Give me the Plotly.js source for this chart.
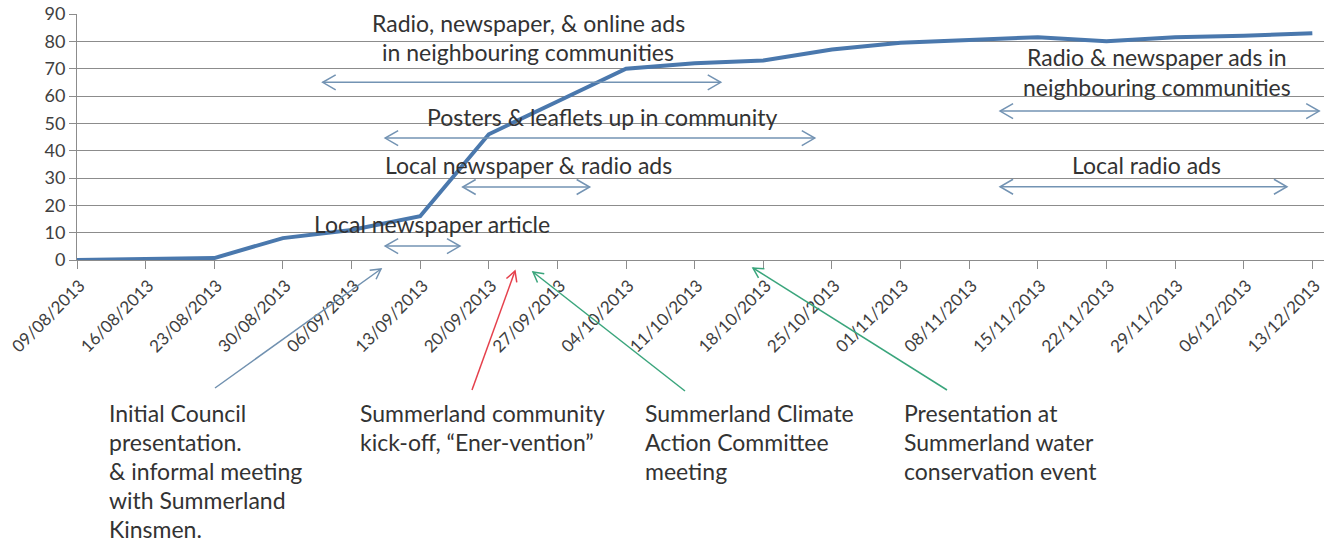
<!DOCTYPE html>
<html><head><meta charset="utf-8">
<script src="https://cdn.plot.ly/plotly-3.0.1.min.js"></script>
<style>html,body{margin:0;padding:0;background:#fff}#chart{width:1331px;height:545px}</style>
</head><body><div id="chart"></div>
<script>
// ---- data ----
const weeks = ['09/08/2013','16/08/2013','23/08/2013','30/08/2013','06/09/2013','13/09/2013','20/09/2013',
  '27/09/2013','04/10/2013','11/10/2013','18/10/2013','25/10/2013','01/11/2013','08/11/2013','15/11/2013',
  '22/11/2013','29/11/2013','06/12/2013','13/12/2013'];
const participants = [0, 0.5, 0.7, 8, 11, 16, 46, 58, 70, 72, 73, 77, 79.5, 80.5, 81.5, 80, 81.5, 82, 83];
const yTicks = [0,10,20,30,40,50,60,70,80,90];

// campaign spans: label lines, start index, end index, level
const spanLabels = [
  ['Radio, newspaper, & online ads','in neighbouring communities'],
  ['Posters & leaflets up in community'],
  ['Local newspaper & radio ads'],
  ['Local newspaper article'],
  ['Radio & newspaper ads in','neighbouring communities'],
  ['Local radio ads']
];
const spanStart = [3.58, 4.49, 5.62, 4.49, 13.45, 13.45];
const spanEnd   = [9.38, 10.75, 7.47, 5.58, 18.10, 17.63];
const spanLevel = [65, 44.6, 26.7, 5.1, 54.5, 26.8];

const eventLabels = [
  ['Initial Council','presentation.','& informal meeting','with Summerland','Kinsmen.'],
  ['Summerland community','kick-off, \u201cEner-vention\u201d'],
  ['Summerland Climate','Action Committee','meeting'],
  ['Presentation at','Summerland water','conservation event']
];
const eventColors = ['#7191b0','#e5404c','#3aa57c','#3aa57c'];

// ---- layout geometry (pixels) ----
const PL=77, PR=1324, PT=14, PB=260, W=1331, H=545;
const PW=PR-PL, PH=PB-PT, XMAX=18.17, YMAX=90;
const fx = p => (p-PL)/PW;
const fy = p => (PB-p)/PH;

const FONT = 'Lato, "Noto Sans", sans-serif';
const TXT = '#333333';
const AXC = '#8c8c8c';
const shapes = [], annotations = [];

function chevron(xref, yref, xa, ya, dx, dy, L, w, color, lw){
  const p1x = -L*dx + w*(-dy), p1y = -L*dy + w*dx;
  const p2x = -L*dx - w*(-dy), p2y = -L*dy - w*dx;
  shapes.push({type:'path', xref, yref, xsizemode:'pixel', ysizemode:'pixel', xanchor:xa, yanchor:ya,
    path:`M${p1x},${-p1y} L0,0 L${p2x},${-p2y}`, line:{color, width:lw}});
}

// horizontal double arrows (data coords)
const spanColor = '#7393b3';
const spanText = [[528,23,29],[602,117,29],[528,165,29],[432,224,29],[1157,57,30],[1146,165,29]];
spanStart.forEach((s,i)=>{
  const e = spanEnd[i], lv = spanLevel[i];
  shapes.push({type:'line', xref:'x', yref:'y', x0:s, x1:e, y0:lv, y1:lv, line:{color:spanColor, width:1.5}});
  chevron('x','y', s, lv, -1, 0, 13, 7.5, spanColor, 1.5);
  chevron('x','y', e, lv, 1, 0, 13, 7.5, spanColor, 1.5);
  const [cx, cy, gap] = spanText[i];
  spanLabels[i].forEach((t,k)=>{
    annotations.push({xref:'paper', yref:'paper', x:fx(cx), y:fy(cy+k*gap), xanchor:'center', yanchor:'middle',
      text:t, showarrow:false, font:{family:FONT, size:23, color:TXT}});
  });
});

// event pointers (tail px -> head px)
const eventArrows = [[215,388,381,269],[472,390,515,271],[685,391,533,272],[947,390,753,268]];
const eventText = [[107,413],[358,413],[643,413],[902,413]];
eventArrows.forEach((a,i)=>{
  const [tx,ty,hx,hy] = a;
  const c = eventColors[i];
  shapes.push({type:'line', xref:'paper', yref:'paper', x0:fx(tx), y0:fy(ty), x1:fx(hx), y1:fy(hy), line:{color:c, width:1.5}});
  const len = Math.hypot(hx-tx, hy-ty);
  chevron('paper','paper', fx(hx), fy(hy), (hx-tx)/len, (hy-ty)/len, 10, 5.5, c, 1.5);
  const [lx, ly] = eventText[i];
  eventLabels[i].forEach((t,k)=>{
    annotations.push({xref:'paper', yref:'paper', x:fx(lx), y:fy(ly+k*29), xanchor:'left', yanchor:'middle',
      text:t, showarrow:false, font:{family:FONT, size:23, color:TXT}});
  });
});

const trace = {
  x: weeks, y: participants, type:'scatter', mode:'lines',
  line:{color:'#4a78ad', width:4}, hoverinfo:'x+y'
};

const layout = {
  width:W, height:H, margin:{l:PL, r:W-PR, t:PT, b:H-PB},
  paper_bgcolor:'#ffffff', plot_bgcolor:'#ffffff', showlegend:false,
  xaxis:{type:'category', range:[0,XMAX], tickangle:-45, ticks:'outside', ticklen:8, tickcolor:AXC,
    showline:true, linecolor:AXC, linewidth:1, showgrid:false, zeroline:false,
    ticklabelstandoff:0, ticklabelshift:3,
    tickfont:{family:FONT, size:17, color:'#404040'}},
  yaxis:{range:[0,YMAX], tickvals:yTicks, ticks:'outside', ticklen:7, tickcolor:AXC,
    showgrid:true, gridcolor:AXC, gridwidth:1, zeroline:false, showline:true, linecolor:AXC, linewidth:1,
    tickfont:{family:FONT, size:18, color:'#404040'}},
  shapes, annotations
};

Plotly.newPlot('chart', [trace], layout, {displayModeBar:false, staticPlot:true});
</script>
</body></html>
